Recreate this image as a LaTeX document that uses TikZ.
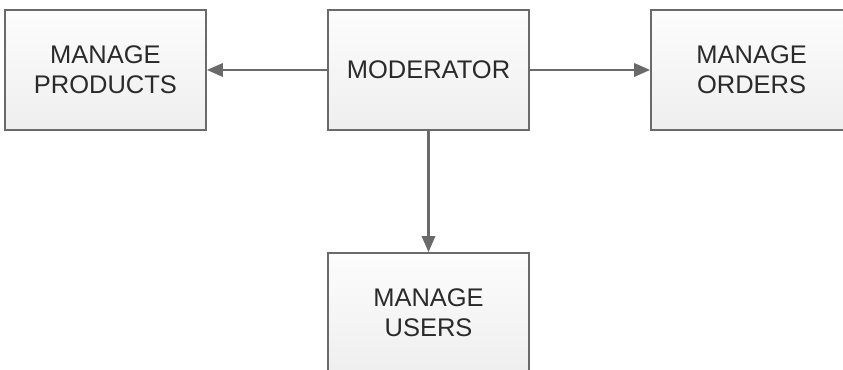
\documentclass[tikz,border=0pt]{standalone}
\usepackage{fontspec}
\setmainfont{Liberation Sans}
\usepackage{xcolor}
\usepackage{tikz}
\usetikzlibrary{arrows.meta, positioning}

\definecolor{boxline}{HTML}{6A6A6A}
\definecolor{boxtext}{HTML}{2A2A2A}

\begin{document}
\begin{tikzpicture}[
node distance = 24.2mm and 24mm,
box/.style = {draw=boxline, line width=1.2pt, top color=gray!2,
              bottom color=gray!13, minimum width=40.2mm,
              minimum height=24mm, inner sep=0pt, align=center,
              text=boxtext, font=\fontsize{14.5}{17}\selectfont},
every edge/.style = {draw=boxline, line width=1.2pt,
                     -{Triangle[length=3.2mm, width=2.7mm]}},
                        ]
\useasboundingbox (0,0) rectangle (16.86,-7.4);
\node (mod) [box] at (8.57,-1.4) {MODERATOR};
\node (prod) [box, left=of mod]   {MANAGE\\PRODUCTS};
\node (ord)  [box, right=of mod]  {MANAGE\\ORDERS};
\node (usr)  [box, below=of mod]  {MANAGE\\USERS};
\draw   (mod) edge (prod)
(mod) edge (ord)
(mod) edge (usr);
   \end{tikzpicture}
\end{document}
